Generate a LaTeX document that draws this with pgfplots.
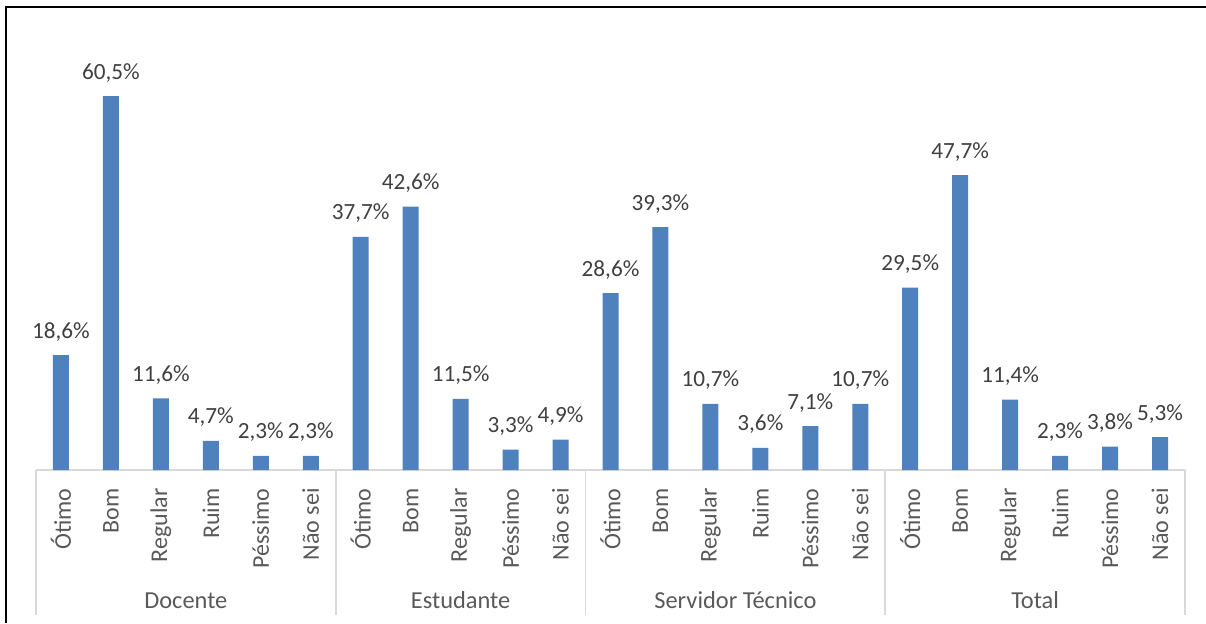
\documentclass[border=0pt]{standalone}
\usepackage{fontspec}
\setmainfont{Carlito}
\usepackage{pgfplots}
\pgfplotsset{compat=1.18}
\definecolor{barblue}{HTML}{4F81BD}
\definecolor{lbl}{HTML}{404040}
\definecolor{tickc}{HTML}{595959}
\definecolor{sepc}{HTML}{D9D9D9}
\begin{document}
\begin{tikzpicture}
\path[use as bounding box] (-18pt,-76.5pt) rectangle (585pt,235pt);
\begin{axis}[
  at={(0,0)}, anchor=south west,
  scale only axis, width=574.5pt, height=225pt,
  xmin=-0.5, xmax=22.5, ymin=0, ymax=72.8,
  clip=false,
  axis y line=none,
  axis x line*=bottom,
  x axis line style={draw=sepc, line width=0.8pt, -},
  ytick=\empty,
  xtick={0,...,22},
  xticklabels={Ótimo,Bom,Regular,Ruim,Péssimo,Não sei,
               Ótimo,Bom,Regular,Péssimo,Não sei,
               Ótimo,Bom,Regular,Ruim,Péssimo,Não sei,
               Ótimo,Bom,Regular,Ruim,Péssimo,Não sei},
  major tick length=0pt,
  xticklabel style={rotate=90, anchor=east, inner sep=0pt, font=\fontsize{12}{14}\selectfont, text=tickc},
  xticklabel shift=9pt,
  /pgf/number format/assume math mode=true,
  ybar, bar width=8pt,
  nodes near coords={\pgfmathprintnumber[fixed,fixed zerofill,precision=1,use comma]{\pgfplotspointmeta}\%},
  every node near coord/.append style={font=\fontsize{11.6}{13}\selectfont, text=lbl, anchor=base, yshift=8.5pt, inner sep=0pt},
]
\addplot[fill=barblue, draw=none, bar shift=0pt] coordinates {
 (0,18.6) (1,60.5) (2,11.6) (3,4.7) (4,2.3) (5,2.3)
 (6,37.7) (7,42.6) (8,11.5) (9,3.3) (10,4.9)
 (11,28.6) (12,39.3) (13,10.7) (14,3.6) (15,7.1) (16,10.7)
 (17,29.5) (18,47.7) (19,11.4) (20,2.3) (21,3.8) (22,5.3)
};
\draw[sepc, line width=0.8pt] (axis cs:-0.5,0) -- ++(0pt,-72.5pt);
\draw[sepc, line width=0.8pt] (axis cs:5.5,0) -- ++(0pt,-72.5pt);
\draw[sepc, line width=0.8pt] (axis cs:10.5,0) -- ++(0pt,-72.5pt);
\draw[sepc, line width=0.8pt] (axis cs:16.5,0) -- ++(0pt,-72.5pt);
\draw[sepc, line width=0.8pt] (axis cs:22.5,0) -- ++(0pt,-72.5pt);
\node[anchor=base, inner sep=0pt, text=tickc, font=\fontsize{12.2}{14}\selectfont] at ([yshift=-69pt]axis cs:2.5,0) {Docente};
\node[anchor=base, inner sep=0pt, text=tickc, font=\fontsize{12.2}{14}\selectfont] at ([yshift=-69pt]axis cs:8,0) {Estudante};
\node[anchor=base, inner sep=0pt, text=tickc, font=\fontsize{12.2}{14}\selectfont] at ([yshift=-69pt]axis cs:13.5,0) {Servidor Técnico};
\node[anchor=base, inner sep=0pt, text=tickc, font=\fontsize{12.2}{14}\selectfont] at ([yshift=-69pt]axis cs:19.5,0) {Total};
\end{axis}
\draw[black, line width=1.1pt] (-15pt,-76.5pt) -- (-15pt,231.5pt) -- (585pt,231.5pt);
\end{tikzpicture}
\end{document}
